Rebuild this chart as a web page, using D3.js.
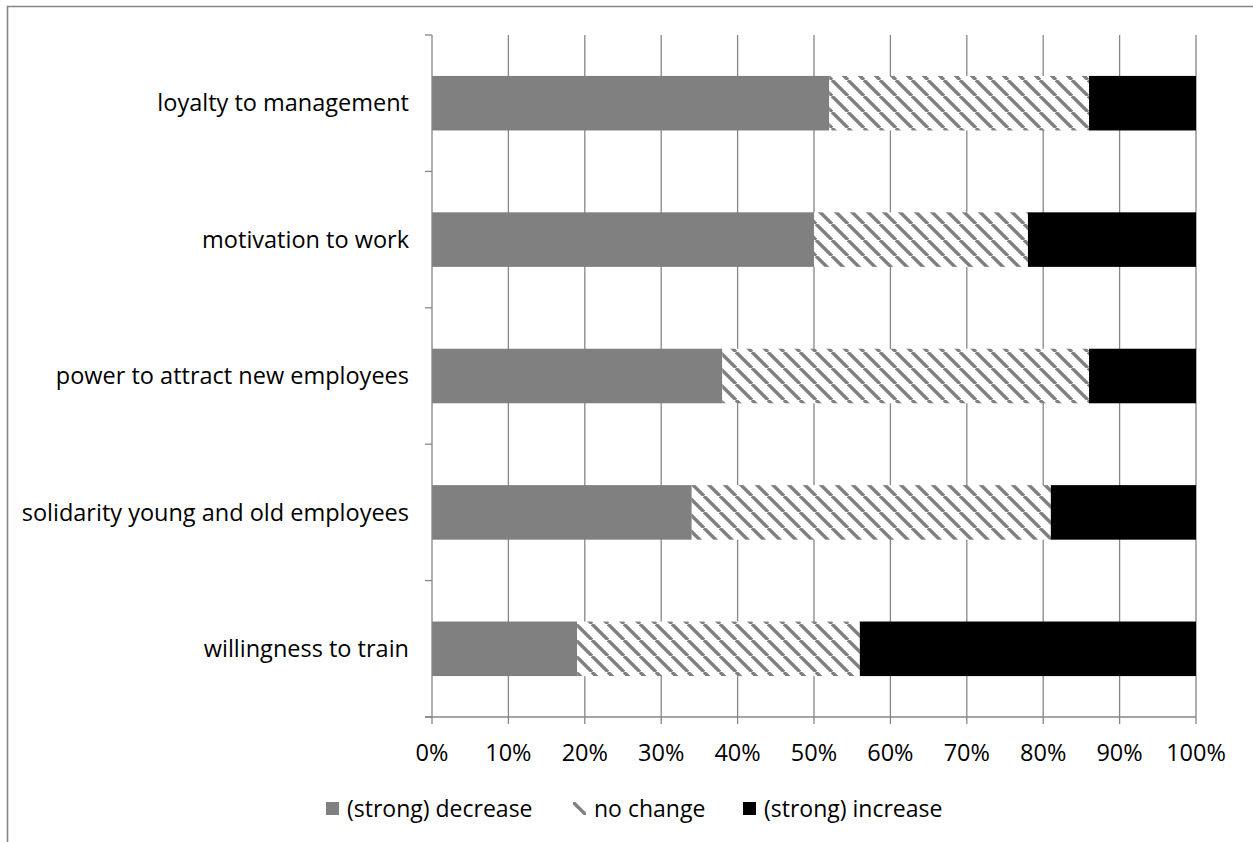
<!DOCTYPE html>
<html>
<head>
<meta charset="utf-8">
<script src="https://cdn.jsdelivr.net/npm/d3@7"></script>
<style>
  body { margin: 0; background: #fff; }
  svg { display: block; font-family: "Open Sans", "Noto Sans", sans-serif; }
</style>
</head>
<body>
<div id="chart"></div>
<script>
// values (percent of respondents)
const categories = [
    'loyalty to management',
    'motivation to work',
    'power to attract new employees',
    'solidarity young and old employees',
    'willingness to train'
]
const decrease = [52, 50, 38, 34, 19]
const noChange = [34, 28, 48, 47, 37]
const increase = [14, 22, 14, 19, 44]
const xTicks = [0, 10, 20, 30, 40, 50, 60, 70, 80, 90, 100]

const seriesNames = ['(strong) decrease', 'no change', '(strong) increase']
const seriesFill = ['#808080', 'url(#hatch)', '#000000']

const W = 1253, H = 842
const margin = { left: 432, right: 57, top: 35, bottom: 125 }
const gridColor = '#868686'

const svg = d3.select('#chart').append('svg')
    .attr('width', W)
    .attr('height', H)

// diagonal hatch for "no change"
let pat = svg.append('defs').append('pattern')
    .attr('id', 'hatch')
    .attr('patternUnits', 'userSpaceOnUse')
    .attr('width', 16)
    .attr('height', 16)
pat.append('rect').attr('width', 16).attr('height', 16).attr('fill', '#fff')
pat.selectAll('path')
    .data([-16, 0, 16])
    .enter().append('path')
    .attr('d', d => `M${d},0 L${d + 16},16`)
    .attr('stroke', '#808080')
    .attr('stroke-width', 3.4)

// outer chart border (cut off at right and bottom)
svg.append('path')
    .attr('d', `M7.5,${H + 2} L7.5,6.5 L${W + 2},6.5`)
    .attr('fill', 'none')
    .attr('stroke', gridColor)
    .attr('stroke-width', 1.6)

const x = d3.scaleLinear().domain([0, 100]).range([margin.left, W - margin.right])
const y = d3.scaleBand()
    .domain(categories)
    .range([margin.top, H - margin.bottom])
    .paddingInner(0.6)
    .paddingOuter(0.3)

const y0 = y.range()[0], y1 = y.range()[1]

// vertical gridlines
svg.append('g')
    .attr('class', 'grid')
    .selectAll('line')
    .data(xTicks.slice(1))
    .enter().append('line')
    .attr('x1', d => x(d)).attr('x2', d => x(d))
    .attr('y1', y0).attr('y2', y1)
    .attr('stroke', gridColor)
    .attr('stroke-width', 1.3)

// stacked bars
const stackData = categories.map((c, i) => ({ cat: c, dec: decrease[i], noc: noChange[i], inc: increase[i] }))
const stack = d3.stack().keys(['dec', 'noc', 'inc'])(stackData)

svg.append('g')
    .attr('class', 'bars')
    .selectAll('g')
    .data(stack)
    .enter().append('g')
    .attr('fill', (d, i) => seriesFill[i])
    .selectAll('rect')
    .data(d => d)
    .enter().append('rect')
    .attr('x', d => x(d[0]))
    .attr('width', d => x(d[1]) - x(d[0]))
    .attr('y', d => y(d.data.cat))
    .attr('height', y.bandwidth())

// y axis line + category boundary ticks
let yAxis = svg.append('g').attr('class', 'y-axis')
yAxis.append('line')
    .attr('x1', x(0)).attr('x2', x(0))
    .attr('y1', y0).attr('y2', y1)
    .attr('stroke', gridColor).attr('stroke-width', 1.3)
yAxis.selectAll('.tick')
    .data(d3.range(categories.length + 1))
    .enter().append('line')
    .attr('x1', x(0) - 7).attr('x2', x(0))
    .attr('y1', i => y0 + i * y.step()).attr('y2', i => y0 + i * y.step())
    .attr('stroke', gridColor).attr('stroke-width', 1.3)
yAxis.selectAll('text')
    .data(categories)
    .enter().append('text')
    .attr('x', x(0) - 23)
    .attr('y', d => y(d) + y.bandwidth() / 2)
    .attr('dy', '0.35em')
    .attr('text-anchor', 'end')
    .attr('font-size', 23.5)
    .attr('fill', '#000')
    .text(d => d)

// x axis
let xAxis = svg.append('g').attr('class', 'x-axis')
xAxis.append('line')
    .attr('x1', x(0) - 7).attr('x2', x(100))
    .attr('y1', y1).attr('y2', y1)
    .attr('stroke', gridColor).attr('stroke-width', 1.3)
xAxis.selectAll('.tick')
    .data(xTicks)
    .enter().append('line')
    .attr('x1', d => x(d)).attr('x2', d => x(d))
    .attr('y1', y1).attr('y2', y1 + 7)
    .attr('stroke', gridColor).attr('stroke-width', 1.3)
xAxis.selectAll('text')
    .data(xTicks)
    .enter().append('text')
    .attr('x', d => x(d))
    .attr('y', y1 + 44)
    .attr('text-anchor', 'middle')
    .attr('font-size', 23.5)
    .attr('fill', '#000')
    .text(d => d + '%')

// legend
const legendX = [326, 573, 743]
let legend = svg.append('g').attr('class', 'legend')
let items = legend.selectAll('g')
    .data(seriesNames)
    .enter().append('g')
    .attr('transform', (d, i) => `translate(${legendX[i]},802)`)
items.append('rect')
    .attr('width', 13).attr('height', 13)
    .attr('fill', (d, i) => seriesFill[i])
items.append('text')
    .attr('x', 21)
    .attr('y', 6.5)
    .attr('dy', '0.35em')
    .attr('font-size', 23)
    .attr('fill', '#000')
    .text(d => d)
</script>
</body>
</html>
